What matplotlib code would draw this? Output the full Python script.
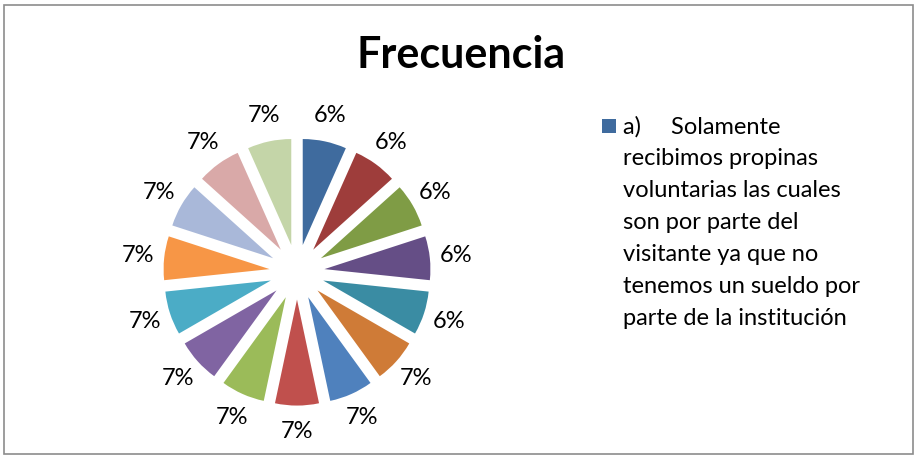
import matplotlib
matplotlib.use('Agg')
import matplotlib.pyplot as plt
from matplotlib.patches import Rectangle

plt.rcParams['font.family'] = ['Lato', 'DejaVu Sans']

# las 15 porciones tienen el mismo tamano; Excel reparte el redondeo para sumar 100 %
frecuencias = [1, 1, 1, 1, 1, 1, 1, 1, 1, 1, 1, 1, 1, 1, 1]
etiquetas = ['6%', '6%', '6%', '6%', '6%', '7%', '7%', '7%', '7%', '7%',
             '7%', '7%', '7%', '7%', '7%']
colores = ['#3F6B9E', '#9E3D3B', '#7F9C45', '#654E86', '#3A8CA3', '#CF7B37',
           '#4F81BD', '#C0504D', '#9BBB59', '#8064A2', '#4BACC6', '#F79646',
           '#A9B8D9', '#D9A9A8', '#C4D5A8']
titulo = "Frecuencia"
leyenda = ("a)     Solamente\nrecibimos propinas\nvoluntarias las cuales\n"
           "son por parte del\nvisitante ya que no\ntenemos un sueldo por\n"
           "parte de la institución")

W, H = 918, 458
fig = plt.figure(figsize=(W / 100, H / 100), dpi=100)

# marco gris del grafico
fig.patches.append(Rectangle((4 / W, 4 / H), (W - 9) / W, (H - 9) / H,
                             transform=fig.transFigure, fill=False,
                             edgecolor='#8C8C8C', linewidth=1.2))

cx, cy, half, r_px = 297, 272, 180, 106
ax = fig.add_axes([(cx - half) / W, (H - cy - half) / H, 2 * half / W, 2 * half / H])
wedges, textos = ax.pie(frecuencias, colors=colores, startangle=90, counterclock=False,
                        explode=[0.26] * len(frecuencias), labels=etiquetas,
                        labeldistance=1.245,
                        textprops={'fontsize': 17, 'color': '#000000'},
                        wedgeprops={'linewidth': 0})
for t in textos:
    t.set_ha('center')
    t.set_va('center')
lim = half / r_px
ax.set_xlim(-lim, lim)
ax.set_ylim(-lim, lim)
ax.set_aspect('equal')
ax.axis('off')

fig.text(461 / W, 1 - 55 / H, titulo, ha='center', va='center',
         fontsize=31, fontweight='bold')

# leyenda (solo se ve la primera entrada)
fig.patches.append(Rectangle((602 / W, 1 - 133 / H), 14 / W, 14 / H,
                             transform=fig.transFigure, facecolor=colores[0],
                             edgecolor='none'))
fig.text(623 / W, 1 - 116 / H, leyenda, ha='left', va='top',
         fontsize=17, linespacing=1.645)

fig.savefig('out.png', dpi=100)
